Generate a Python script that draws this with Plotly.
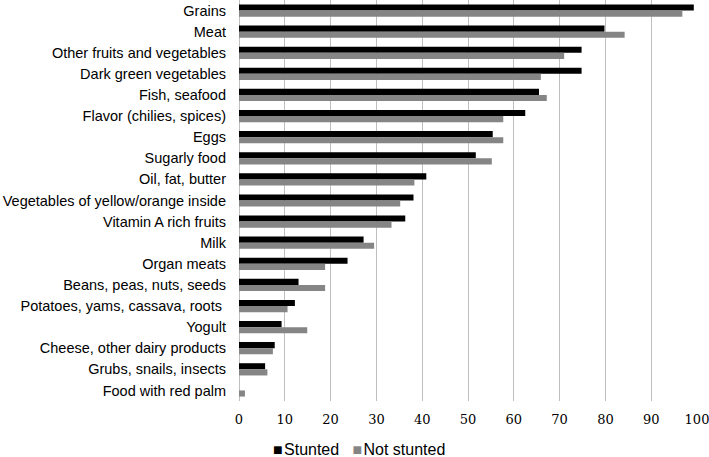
import plotly.graph_objects as go

categories = [
    "Grains", "Meat", "Other fruits and vegetables", "Dark green vegetables",
    "Fish, seafood", "Flavor (chilies, spices)", "Eggs", "Sugarly food",
    "Oil, fat, butter", "Vegetables of yellow/orange inside", "Vitamin A rich fruits",
    "Milk", "Organ meats", "Beans, peas, nuts, seeds", "Potatoes, yams, cassava, roots ",
    "Yogult", "Cheese, other dairy products", "Grubs, snails, insects", "Food with red palm",
]
stunted = [99.3, 79.8, 74.8, 74.8, 65.5, 62.5, 55.4, 51.7, 40.9, 38.1, 36.3, 27.2, 23.7,
           13.0, 12.2, 9.3, 7.8, 5.7, 0.0]
not_stunted = [96.8, 84.2, 71.0, 65.9, 67.2, 57.7, 57.7, 55.2, 38.3, 35.2, 33.3, 29.5, 18.8,
               18.8, 10.6, 14.9, 7.4, 6.2, 1.3]
x_ticks = list(range(0, 101, 10))
series_names = ["Stunted", "Not stunted"]
series_colors = ["#000000", "#858585"]

fig = go.Figure()
for name, vals, col in zip(series_names, [stunted, not_stunted], series_colors):
    fig.add_trace(go.Bar(y=categories, x=vals, name=name, orientation="h",
                         marker=dict(color=col, line=dict(width=0))))

legend_text = "   ".join(
    f"<span style='color:{c}'>■</span>&#8202;{n}" for n, c in zip(series_names, series_colors)
)
fig.add_annotation(text=legend_text, xref="paper", yref="paper",
                   x=0.262, y=-0.12, xanchor="center", yanchor="middle",
                   showarrow=False, font=dict(size=16, color="#000000",
                                              family="Liberation Sans, Arial"))

fig.update_layout(
    width=709, height=457,
    margin=dict(l=239, r=12, t=0, b=56),
    paper_bgcolor="white", plot_bgcolor="white",
    barmode="group", bargap=0.42, bargroupgap=0,
    font=dict(family="Liberation Sans, Arial", size=14, color="#000000"),
    showlegend=False,
)
fig.update_xaxes(range=[0, 100], tickvals=x_ticks, showgrid=True, gridcolor="#bfbfbf",
                 gridwidth=1, zeroline=True, zerolinecolor="#bfbfbf", zerolinewidth=1,
                 tickfont=dict(family="DejaVu Serif", size=13), automargin=False,
                 ticks="", showline=False, ticklabelstandoff=9,
                 ticklabeloverflow="allow")
fig.update_yaxes(autorange="reversed", ticks="", showgrid=False, showline=False,
                 automargin=False, ticklabelstandoff=12, tickfont=dict(size=14.5))

fig.write_html("out.html", config={"displayModeBar": False},
               post_script="document.body.style.margin='0';")
